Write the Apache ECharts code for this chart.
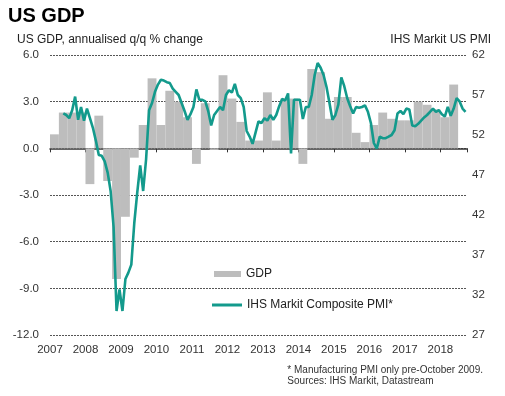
<!DOCTYPE html>
<html>
<head>
<meta charset="utf-8">
<script src="https://cdn.jsdelivr.net/npm/echarts@6/dist/echarts.min.js"></script>
<style>
  html, body { margin: 0; padding: 0; background: #fff; }
  #chart { width: 505px; height: 396px; }
</style>
</head>
<body>
<div id="chart"></div>
<script>
var FONT = 'Arial, "Liberation Sans", sans-serif';

// quarters 2007Q1 .. 2018Q3
var years = [2007, 2008, 2009, 2010, 2011, 2012, 2013, 2014, 2015, 2016, 2017, 2018];
var quarters = [];
years.forEach(function (y) {
  ['Q1', 'Q2', 'Q3', 'Q4'].forEach(function (q) { quarters.push(y + ' ' + q); });
});
quarters = quarters.slice(0, 47);

// US GDP, annualised q/q % change (2018 Q3 not yet out)
var gdp = [
  0.9, 2.3, 2.3, 2.3,
  -2.3, 2.1, -2.1, -8.4,
  -4.4, -0.6, 1.5, 4.5,
  1.5, 3.7, 3.0, 2.0,
  -1.0, 2.9, -0.1, 4.7,
  3.2, 1.7, 0.5, 0.5,
  3.6, 0.5, 3.2, 3.2,
  -1.0, 5.1, 4.9, 1.9,
  3.3, 3.3, 1.0, 0.4,
  1.5, 2.3, 1.9, 1.8,
  1.8, 3.0, 2.8, 2.5,
  2.0, 4.1, null
];

// IHS Markit PMI, monthly from May 2007 to Sep 2018
var pmiStartMonth = 4; // months after Jan 2007
var pmi = [
  54.7, 54.5, 54.1, 55.1, 56.8, 53.9, 55.5, 53.8,                  // 2007 May-Dec
  55.3, 54.1, 52.9, 51.3, 49.5, 49.4, 48.7, 47.3, 45.0, 40.5, 30.0, 32.7, // 2008
  30.0, 34.0, 34.8, 35.8, 41.0, 44.8, 48.2, 45.0, 49.0, 55.1, 56.0, 57.4, // 2009
  58.3, 58.9, 58.8, 58.6, 58.5, 57.8, 57.4, 57.0, 56.0, 55.0, 53.9, 54.6, // 2010
  55.5, 57.7, 56.4, 56.4, 56.2, 55.0, 53.2, 54.5, 55.0, 55.5, 55.1, 57.0, // 2011
  57.6, 57.3, 58.4, 57.0, 56.6, 55.5, 52.5, 51.8, 50.9, 52.3, 53.7, 53.5, // 2012
  54.1, 53.8, 54.5, 53.9, 54.5, 55.6, 56.5, 56.3, 57.2, 49.7, 56.4, 56.4, // 2013
  56.4, 54.0, 55.5, 55.5, 57.0, 59.5, 61.0, 60.4, 59.5, 58.0, 56.0, 53.9, // 2014
  54.5, 55.8, 59.2, 58.1, 56.6, 55.6, 54.7, 55.5, 55.4, 55.5, 55.7, 54.9, // 2015
  53.5, 51.0, 50.3, 51.8, 51.6, 51.6, 51.8, 52.0, 52.6, 54.7, 55.0, 54.6, // 2016
  55.3, 55.2, 53.2, 53.1, 53.4, 53.8, 54.2, 54.5, 54.9, 55.3, 54.9, 55.1, // 2017
  54.6, 54.3, 55.5, 54.4, 55.3, 56.6, 56.2, 55.3, 54.9                    // 2018 Jan-Sep
];

var pmiData = pmi.map(function (v, i) {
  return [2007 + (pmiStartMonth + i + 0.5) / 12, v];
});

var chart = echarts.init(document.getElementById('chart'));

chart.setOption({
  animation: false,
  backgroundColor: '#fff',
  textStyle: { fontFamily: FONT },
  grid: { left: 50, right: 38, top: 55, bottom: 61, containLabel: false },
  legend: [
    {
      data: ['GDP'],
      left: 214, top: 268,
      padding: 0,
      itemWidth: 27, itemHeight: 6,
      icon: 'rect',
      textStyle: { fontSize: 12, color: '#222', fontFamily: FONT }
    },
    {
      data: [{ name: 'IHS Markit Composite PMI*', icon: 'rect' }],
      left: 212, top: 299,
      padding: 0,
      itemWidth: 30, itemHeight: 3,
      textStyle: { fontSize: 12, color: '#222', fontFamily: FONT }
    }
  ],
  xAxis: [
    {
      type: 'category',
      data: quarters,
      boundaryGap: true,
      axisLine: { onZero: true, lineStyle: { color: '#333', width: 1.5 } },
      axisTick: { show: true, interval: 3, length: 4, lineStyle: { color: '#333' } },
      axisLabel: { show: false },
      splitLine: { show: false }
    },
    {
      type: 'value',
      position: 'bottom',
      min: 2007, max: 2018.75, interval: 1,
      axisLine: { show: false, onZero: false },
      axisTick: { show: false },
      splitLine: { show: false },
      axisLabel: {
        margin: 9,
        fontSize: 11.5,
        color: '#333',
        fontFamily: FONT,
        showMaxLabel: false,
        formatter: function (v) { return Number.isInteger(v) ? String(v) : ''; }
      }
    }
  ],
  yAxis: [
    {
      type: 'value',
      min: -12, max: 6, interval: 3,
      axisLine: { show: false },
      axisTick: { show: false },
      axisLabel: {
        margin: 11, fontSize: 11.5, color: '#333', fontFamily: FONT,
        formatter: function (v) { return v.toFixed(1); }
      },
      splitLine: { show: true, lineStyle: { color: '#555', type: [2, 1], width: 1 } }
    },
    {
      type: 'value',
      position: 'right',
      min: 27, max: 62, interval: 5,
      axisLine: { show: false },
      axisTick: { show: false },
      axisLabel: { margin: 5, fontSize: 11.5, color: '#333', fontFamily: FONT },
      splitLine: { show: false }
    }
  ],
  series: [
    {
      name: 'GDP',
      type: 'bar',
      xAxisIndex: 0, yAxisIndex: 0,
      data: gdp,
      barCategoryGap: '0%',
      itemStyle: { color: '#bdbdbd' },
      z: 2
    },
    {
      name: 'IHS Markit Composite PMI*',
      type: 'line',
      xAxisIndex: 1, yAxisIndex: 1,
      data: pmiData,
      showSymbol: false,
      symbol: 'none',
      lineStyle: { color: '#139a8c', width: 2.6 },
      itemStyle: { color: '#139a8c' },
      z: 3
    }
  ],
  graphic: [
    {
      type: 'text', left: 8, top: 6,
      style: { text: 'US GDP', font: 'bold 20px ' + FONT, fill: '#000' }
    },
    {
      type: 'text', left: 17, top: 34,
      style: { text: 'US GDP, annualised q/q % change', font: '12px ' + FONT, fill: '#222' }
    },
    {
      type: 'text', right: 14, top: 34,
      style: { text: 'IHS Markit US PMI', font: '12px ' + FONT, fill: '#222', align: 'right' }
    },
    {
      type: 'text', right: 22, top: 365,
      style: {
        text: '* Manufacturing PMI only pre-October 2009.\nSources: IHS Markit, Datastream',
        font: '10px ' + FONT, fill: '#333', align: 'right', lineHeight: 11
      }
    }
  ]
});
</script>
</body>
</html>
